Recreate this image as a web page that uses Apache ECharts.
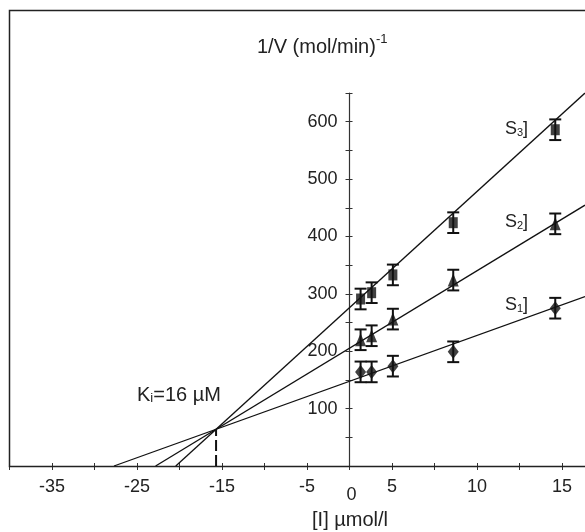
<!DOCTYPE html>
<html>
<head>
<meta charset="utf-8">
<script src="https://cdn.jsdelivr.net/npm/echarts@6/dist/echarts.min.js"></script>
<style>
html,body{margin:0;padding:0;background:#fff;}
#chart{width:585px;height:532px;}
</style>
</head>
<body>
<div id="chart"></div>
<script>
// x positions are in the plot's drawn axis units (one tick = 5 units)
const xPos = [1.3, 2.6, 5.1, 12.2, 24.2];
const s1 = [164, 164, 174, 199, 275];
const s2 = [220, 227, 256, 324, 422];
const s3 = [291, 302, 333, 424, 586];
const err1 = [18, 18, 18, 18, 18];
const err2 = [18, 18, 18, 18, 18];
const err3 = [18, 18, 18, 18, 18];
// tick labels as printed on the original axis
const xTickLabels = {'-35':'-35','-25':'-25','-15':'-15','-5':'-5','0':'0','5':'5','15':'10','25':'15'};
const yTickLabels = [100, 200, 300, 400, 500, 600];
// fitted lines: common intersection point and slopes
const kiX = -15.7, kiY = 64;
const slopes = [5.33, 9.0, 13.5];
const X_MIN = -40, X_MAX = 27.7, Y_MIN = 0, Y_MAX = 650;

const GRID_LEFT = 9.5, GRID_RIGHT = 0;
const PLOT_W = 585 - GRID_LEFT - GRID_RIGHT;
const Y_AXIS_OFFSET = -(0 - X_MIN) / (X_MAX - X_MIN) * PLOT_W;

function linePts(slope) {
  const x0 = kiX - kiY / slope;
  return [[x0, 0], [X_MAX, kiY + slope * (X_MAX - kiX)]];
}
function pts(ys) { return xPos.map((x, i) => [x, ys[i]]); }
function errData(ys, es) { return xPos.map((x, i) => [x, ys[i] - es[i], ys[i] + es[i]]); }

function errSeries(ys, es) {
  return {
    type: 'custom',
    data: errData(ys, es),
    z: 3,
    renderItem: function (params, api) {
      const lo = api.coord([api.value(0), api.value(1)]);
      const hi = api.coord([api.value(0), api.value(2)]);
      const w = 6;
      const st = {stroke: '#111', lineWidth: 2};
      return {
        type: 'group',
        children: [
          {type: 'line', shape: {x1: lo[0], y1: lo[1], x2: hi[0], y2: hi[1]}, style: st},
          {type: 'line', shape: {x1: lo[0] - w, y1: lo[1], x2: lo[0] + w, y2: lo[1]}, style: st},
          {type: 'line', shape: {x1: hi[0] - w, y1: hi[1], x2: hi[0] + w, y2: hi[1]}, style: st}
        ]
      };
    }
  };
}
function fitSeries(slope) {
  return {type: 'line', data: linePts(slope), symbol: 'none', silent: true,
    lineStyle: {color: '#111', width: 1.3}, z: 2, clip: true};
}
function scat(ys, sym, size) {
  return {type: 'scatter', data: pts(ys), symbol: sym, symbolSize: size,
    itemStyle: {color: '#111'}, z: 4};
}

const FONT = 'Liberation Sans, Arial, sans-serif';
const chart = echarts.init(document.getElementById('chart'));
chart.setOption({
  animation: false,
  backgroundColor: '#fff',
  grid: {left: GRID_LEFT, right: GRID_RIGHT, top: 93, bottom: 66, containLabel: false, outerBoundsMode: 'none'},
  xAxis: [{
    type: 'value', min: X_MIN, max: X_MAX, interval: 5, position: 'bottom',
    splitLine: {show: false},
    axisLine: {onZero: false, lineStyle: {color: '#333', width: 1.2}},
    axisTick: {show: true, length: 4, lineStyle: {color: '#333'}},
    axisLabel: {
      fontFamily: FONT, fontSize: 18, color: '#222', margin: 12,
      showMaxLabel: false,
      formatter: function (v) {
        const k = String(Math.round(v));
        if (Math.abs(v - Math.round(v)) > 1e-6) return '';
        if (k === '0') return '{z|0}';
        return xTickLabels[k] || '';
      },
      rich: {z: {fontFamily: FONT, fontSize: 18, color: '#222', padding: [8, 0, 0, 4]}}
    }
  }, {
    type: 'value', min: X_MIN, max: X_MAX, interval: 5, position: 'bottom',
    splitLine: {show: false},
    axisLine: {show: false, onZero: false},
    axisTick: {show: true, inside: true, length: 3, lineStyle: {color: '#333'}},
    axisLabel: {show: false}
  }],
  yAxis: [{
    type: 'value', min: Y_MIN, max: Y_MAX, interval: 50, position: 'left',
    offset: Y_AXIS_OFFSET,
    splitLine: {show: false},
    axisLine: {onZero: false, lineStyle: {color: '#333', width: 1.2}},
    axisTick: {show: true, length: 4, lineStyle: {color: '#333'}},
    axisLabel: {
      fontFamily: FONT, fontSize: 18, color: '#222', margin: 12,
      formatter: function (v) { return yTickLabels.indexOf(v) >= 0 ? String(v) : ''; }
    }
  }, {
    type: 'value', min: Y_MIN, max: Y_MAX, interval: 50, position: 'left',
    offset: Y_AXIS_OFFSET,
    splitLine: {show: false},
    axisLine: {show: false, onZero: false},
    axisTick: {show: true, inside: true, length: 3, lineStyle: {color: '#333'}},
    axisLabel: {show: false}
  }],
  series: [
    fitSeries(slopes[0]), fitSeries(slopes[1]), fitSeries(slopes[2]),
    {type: 'line', data: [[kiX, 0], [kiX, kiY]], symbol: 'none', silent: true,
      lineStyle: {color: '#111', width: 2, type: [11, 4]}, z: 2},
    errSeries(s1, err1), errSeries(s2, err2), errSeries(s3, err3),
    scat(s1, 'diamond', [11, 14]),
    scat(s2, 'triangle', [11, 13]),
    scat(s3, 'rect', [9, 11])
  ],
  graphic: [
    {type: 'rect', shape: {x: 9.5, y: 10.5, width: 600, height: 456}, silent: true,
      style: {fill: 'none', stroke: '#222', lineWidth: 1.5}, z: 1},
    {type: 'text', x: 257, y: 45, style: {
      text: '{a|1/V (mol/min)}{s|-1}', textVerticalAlign: 'middle',
      rich: {a: {fontFamily: FONT, fontSize: 20, fill: '#222', verticalAlign: 'bottom', lineHeight: 24},
             s: {fontFamily: FONT, fontSize: 13, fill: '#222', verticalAlign: 'top', lineHeight: 24, padding: [0, 0, 8, 0]}}
    }},
    {type: 'text', x: 350, y: 520, style: {
      text: '[I] µmol/l', textAlign: 'center', textVerticalAlign: 'middle',
      fontFamily: FONT, fontSize: 20, fill: '#222'}},
    {type: 'text', x: 137, y: 392, style: {
      text: '{a|K}{b|i}{a|=16 µM}', textVerticalAlign: 'middle',
      rich: {a: {fontFamily: FONT, fontSize: 20, fill: '#222', verticalAlign: 'bottom', lineHeight: 26},
             b: {fontFamily: FONT, fontSize: 13, fill: '#222', verticalAlign: 'bottom', lineHeight: 21}}
    }},
    {type: 'text', x: 505, y: 127, style: {
      text: '{a|S}{b|3}{a|]}', textVerticalAlign: 'middle',
      rich: {a: {fontFamily: FONT, fontSize: 18, fill: '#222', verticalAlign: 'bottom', lineHeight: 22},
             b: {fontFamily: FONT, fontSize: 11, fill: '#222', verticalAlign: 'bottom', lineHeight: 18}}
    }},
    {type: 'text', x: 505, y: 220, style: {
      text: '{a|S}{b|2}{a|]}', textVerticalAlign: 'middle',
      rich: {a: {fontFamily: FONT, fontSize: 18, fill: '#222', verticalAlign: 'bottom', lineHeight: 22},
             b: {fontFamily: FONT, fontSize: 11, fill: '#222', verticalAlign: 'bottom', lineHeight: 18}}
    }},
    {type: 'text', x: 505, y: 303, style: {
      text: '{a|S}{b|1}{a|]}', textVerticalAlign: 'middle',
      rich: {a: {fontFamily: FONT, fontSize: 18, fill: '#222', verticalAlign: 'bottom', lineHeight: 22},
             b: {fontFamily: FONT, fontSize: 11, fill: '#222', verticalAlign: 'bottom', lineHeight: 18}}
    }}
  ]
});
</script>
</body>
</html>
